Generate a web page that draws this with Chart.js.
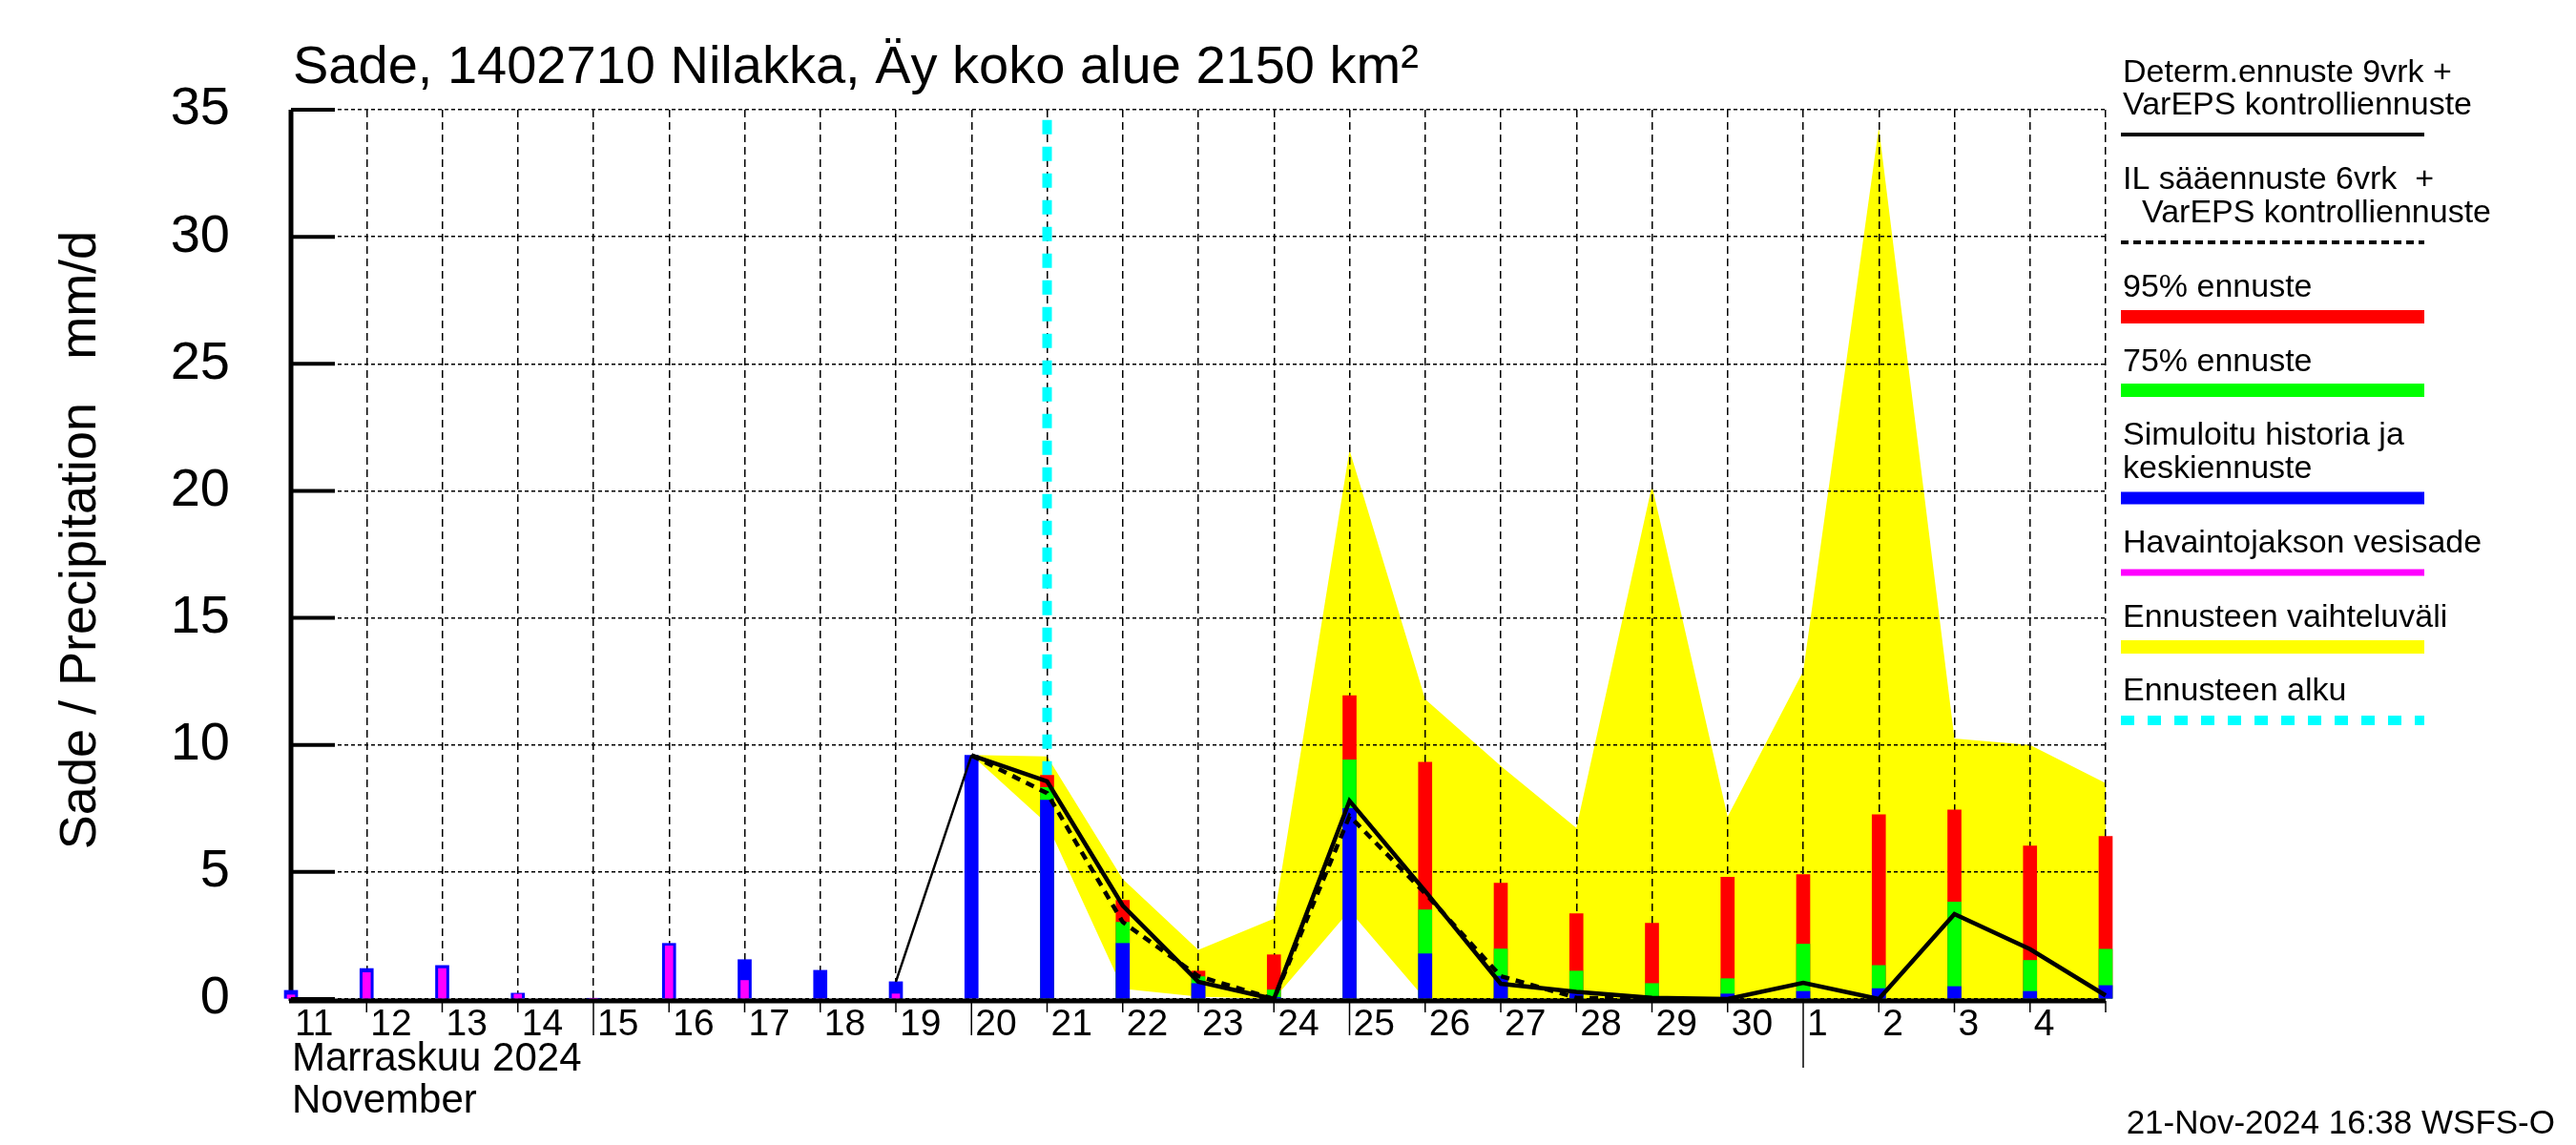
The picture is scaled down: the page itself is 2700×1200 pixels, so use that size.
<!DOCTYPE html>
<html>
<head>
<meta charset="utf-8">
<title>Sade 1402710 Nilakka</title>
<script src="https://cdn.jsdelivr.net/npm/chart.js@4.4.1/dist/chart.umd.min.js"></script>
<style>
  html, body { margin: 0; padding: 0; background: #fff; }
  #wrap { width: 2700px; height: 1200px; }
</style>
</head>
<body>
<div id="wrap"><canvas id="rain" width="2700" height="1200"></canvas></div>
<script>
/* ── data (index 0 = 11 Nov 2024 ... 24 = 5 Dec 2024) ── */
const dayLabels = ['11','12','13','14','15','16','17','18','19','20','21','22','23','24','25','26','27','28','29','30','1','2','3','4',''];
const simMean  = [0.34, 1.2, 1.32, 0.23, 0.02, 2.19, 1.55, 1.13, 0.68, 9.59, 7.83, 2.19, 0.61, 0.06, 7.5, 1.78, 0.9, 0.28, 0.06, 0.2, 0.3, 0.41, 0.49, 0.3, 0.53];
const observed = [0.16, 1.04, 1.2, 0.19, 0.02, 2.09, 0.73, 0, 0.2, null, null, null, null, null, null, null, null, null, null, null, null, null, null, null, null];
const p75      = [null, null, null, null, null, null, null, null, null, null, 8.32, 3.02, 0.88, 0.36, 9.41, 3.51, 1.97, 1.1, 0.61, 0.8, 2.16, 1.32, 3.82, 1.52, 1.96];
const p95      = [null, null, null, null, null, null, null, null, null, null, 8.8, 3.88, 1.1, 1.74, 11.94, 9.32, 4.56, 3.36, 2.98, 4.79, 4.9, 7.25, 7.44, 6.02, 6.4];
const determ   = [null, null, null, null, null, null, null, null, 0.68, 9.59, 8.57, 3.68, 0.68, 0, 7.8, 4.25, 0.6, 0.28, 0.05, 0, 0.64, 0, 3.34, 1.96, 0.14];
const ilFc     = [null, null, null, null, null, null, null, null, null, 9.59, 8.1, 3.03, 0.9, 0, 7.2, 4.16, 0.9, 0.05, 0, null, null, null, null, null, null];
const rangeHigh = [null, null, null, null, null, null, null, null, null, 9.6, 9.55, 4.72, 1.93, 3.16, 21.6, 11.8, 9.17, 6.73, 20.2, 7.17, 12.9, 34.3, 10.25, 10.0, 8.5];
const rangeLow  = [null, null, null, null, null, null, null, null, null, 9.6, 6.9, 0.4, 0.09, 0, 3.47, 0, 0, 0, 0, 0, 0, 0, 0, 0, 0];
const forecastStart = [{ x: 10, y: 34.6 }, { x: 10, y: 0 }];
const yTicks = [0, 5, 10, 15, 20, 25, 30, 35];
const longTickDays = ['15', '20', '25'];
const monthStartIdx = 20;

const FONT = "'Liberation Sans', Arial, Helvetica, sans-serif";
const pts = arr => arr.map((y, i) => ({ x: i, y })).filter(p => p.y !== null);

const legendItems = [
  { lines: ['Determ.ennuste 9vrk +', 'VarEPS kontrolliennuste'], ys: [86, 120], indent: [0, 0], mark: { y: 141, color: '#000', w: 4 } },
  { lines: ['IL sääennuste 6vrk  +', 'VarEPS kontrolliennuste'], ys: [198, 233], indent: [0, 20], mark: { y: 254, color: '#000', w: 4, dash: [8, 5] } },
  { lines: ['95% ennuste'], ys: [311], indent: [0], mark: { y: 332, color: '#ff0000', w: 14 } },
  { lines: ['75% ennuste'], ys: [389], indent: [0], mark: { y: 409, color: '#00ff00', w: 14 } },
  { lines: ['Simuloitu historia ja', 'keskiennuste'], ys: [466, 501], indent: [0, 0], mark: { y: 522, color: '#0000ff', w: 13 } },
  { lines: ['Havaintojakson vesisade'], ys: [579], indent: [0], mark: { y: 600, color: '#ff00ff', w: 7 } },
  { lines: ['Ennusteen vaihteluväli'], ys: [657], indent: [0], mark: { y: 678, color: '#ffff00', w: 14 } },
  { lines: ['Ennusteen alku'], ys: [734], indent: [0], mark: { y: 755, color: '#00ffff', w: 10, dash: [14, 14] } },
];

const decor = {
  id: 'decor',
  beforeDatasetsDraw(chart) {
    const { ctx, chartArea: a } = chart;
    ctx.save();
    ctx.strokeStyle = '#000';
    ctx.lineWidth = 5;
    ctx.beginPath(); ctx.moveTo(a.left, a.top); ctx.lineTo(a.left, a.bottom + 2); ctx.stroke();
    ctx.restore();
  },
  afterDatasetsDraw(chart) {
    const { ctx, chartArea: a, scales } = chart;
    ctx.save();
    ctx.strokeStyle = '#000';
    // x axis
    ctx.lineWidth = 5;
    ctx.beginPath(); ctx.moveTo(a.left - 2, a.bottom + 2); ctx.lineTo(a.right, a.bottom + 2); ctx.stroke();
    // inward y ticks
    ctx.lineWidth = 4;
    yTicks.forEach(v => {
      const y = scales.y.getPixelForValue(v);
      ctx.beginPath(); ctx.moveTo(a.left, y); ctx.lineTo(a.left + 46, y); ctx.stroke();
    });
    // day ticks under the axis
    ctx.lineWidth = 1.5;
    dayLabels.forEach((d, i) => {
      if (i === 0) return;
      const x = scales.x.getPixelForValue(i);
      let len = 12;
      if (longTickDays.includes(d)) len = 36;
      if (i === monthStartIdx) len = 70;
      ctx.beginPath(); ctx.moveTo(x, a.bottom + 2); ctx.lineTo(x, a.bottom + 2 + len); ctx.stroke();
    });

    ctx.fillStyle = '#000';
    ctx.textBaseline = 'alphabetic';
    // title
    ctx.font = '56px ' + FONT;
    ctx.textAlign = 'left';
    ctx.fillText('Sade, 1402710 Nilakka, Äy koko alue 2150 km²', 307, 87);
    // y axis title
    ctx.save();
    ctx.translate(100, 566);
    ctx.rotate(-Math.PI / 2);
    ctx.font = '54px ' + FONT;
    ctx.textAlign = 'center';
    ctx.fillText('Sade / Precipitation   mm/d', 0, 0);
    ctx.restore();
    // month labels
    ctx.font = '42px ' + FONT;
    ctx.fillText('Marraskuu 2024', 306, 1122);
    ctx.fillText('November', 306, 1166);
    // timestamp
    ctx.font = '35px ' + FONT;
    ctx.textAlign = 'right';
    ctx.fillText('21-Nov-2024 16:38 WSFS-O', 2678, 1188);

    // legend
    const lx0 = 2223, lx1 = 2541;
    ctx.textAlign = 'left';
    ctx.font = '34px ' + FONT;
    legendItems.forEach(it => {
      it.lines.forEach((t, k) => ctx.fillText(t, 2225 + it.indent[k], it.ys[k]));
      const m = it.mark;
      ctx.save();
      ctx.strokeStyle = m.color;
      ctx.lineWidth = m.w;
      ctx.lineCap = 'butt';
      ctx.setLineDash(m.dash || []);
      ctx.beginPath(); ctx.moveTo(lx0, m.y); ctx.lineTo(lx1, m.y); ctx.stroke();
      ctx.restore();
    });
    ctx.restore();
  }
};

const barDs = (data, color, thick) => ({
  type: 'bar', data: pts(data), backgroundColor: color, borderWidth: 0,
  barThickness: thick, grouped: false, clip: false
});

new Chart(document.getElementById('rain'), {
  type: 'bar',
  data: {
    datasets: [
      { type: 'line', data: pts(determ), borderColor: '#000', borderWidth: 4.5, pointRadius: 0, tension: 0, fill: false, clip: false,
        segment: { borderWidth: c => c.p0.parsed.x < 9 ? 2.5 : 4.5 } },
      { type: 'line', data: pts(ilFc), borderColor: '#000', borderWidth: 4.5, borderDash: [9, 7], pointRadius: 0, tension: 0, fill: false, clip: false },
      barDs(observed, '#ff00ff', 8),
      barDs(simMean, '#0000ff', 14),
      barDs(p75, '#00ff00', 14),
      barDs(p95, '#ff0000', 14),
      { type: 'line', data: forecastStart, borderColor: '#00ffff', borderWidth: 10, borderDash: [15, 13], pointRadius: 0, fill: false },
      { type: 'line', data: pts(rangeHigh), borderWidth: 0, borderColor: 'rgba(0,0,0,0)', backgroundColor: '#ffff00', pointRadius: 0, tension: 0, fill: '+1' },
      { type: 'line', data: pts(rangeLow), borderWidth: 0, borderColor: 'rgba(0,0,0,0)', pointRadius: 0, tension: 0, fill: false },
    ]
  },
  options: {
    responsive: false,
    animation: false,
    devicePixelRatio: 1,
    layout: { padding: { left: 0, top: 115, right: 493, bottom: 0 } },
    plugins: {
      legend: { display: false },
      tooltip: { enabled: false },
      filler: { drawTime: 'beforeDraw' }
    },
    scales: {
      x: {
        type: 'linear', min: 0, max: 24, offset: false,
        afterBuildTicks: s => { s.ticks = dayLabels.map((_, i) => ({ value: i })); },
        afterFit: s => { s.height = 153; },
        grid: { color: '#000', lineWidth: 1.5, drawTicks: false, offset: false },
        border: { display: false, dash: [8, 5] },
        ticks: {
          autoSkip: false, maxRotation: 0,
          align: 'start', labelOffset: 4, padding: 4, color: '#000',
          font: { family: FONT, size: 39 },
          callback: v => dayLabels[v] ?? ''
        }
      },
      y: {
        min: 0, max: 35,
        afterFit: s => { s.width = 305; },
        grid: { color: '#000', lineWidth: 1.5, drawTicks: false },
        border: { display: false, dash: [4, 3] },
        ticks: { stepSize: 5, padding: 64, color: '#000', font: { family: FONT, size: 56 } }
      }
    }
  },
  plugins: [decor]
});
</script>
</body>
</html>
